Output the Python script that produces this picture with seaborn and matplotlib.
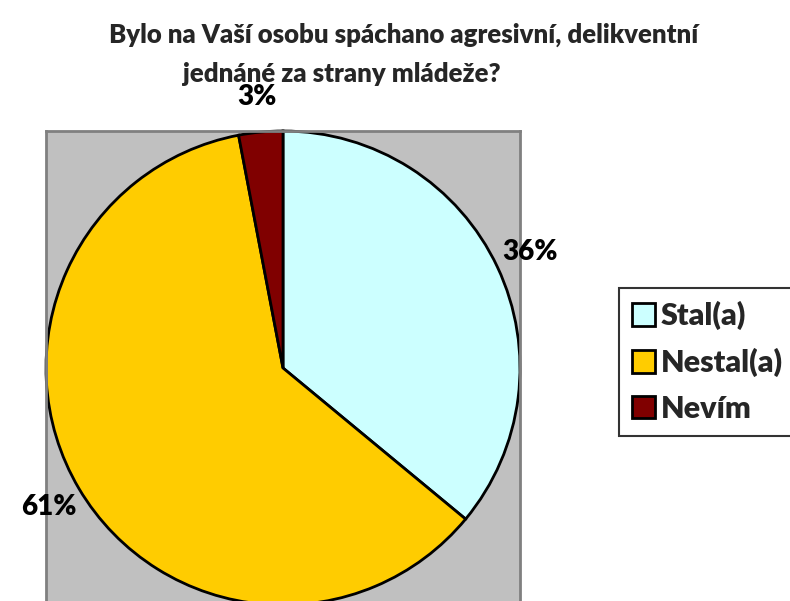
import matplotlib.pyplot as plt
import seaborn as sns
from matplotlib.patches import Patch

# Data
labels = ["Stal(a)", "Nestal(a)", "Nevím"]
shares = [36, 61, 3]
colors = ["#CCFFFF", "#FFCC00", "#800000"]
title_line1 = "Bylo na Vaší osobu spáchano agresivní, delikventní"
title_line2 = "jednáné za strany mládeže?"

sns.set_theme(style="white")
plt.rcParams["font.family"] = ["Lato", "DejaVu Sans"]
plt.rcParams["font.weight"] = "heavy"

fig = plt.figure(figsize=(7.9, 6.01), dpi=100)
W, H = 790, 601
# plot area (gray square) in pixels: left 46, top 131, size 474
ax = fig.add_axes([46 / W, (H - 131 - 474) / H, 474 / W, 474 / H])
ax.set_facecolor("#C0C0C0")
for s in ax.spines.values():
    s.set_visible(True)
    s.set_color("#808080")
    s.set_linewidth(2)

wedges, _, autotexts = ax.pie(
    shares, colors=colors, startangle=90, counterclock=False,
    autopct="%1.0f%%", pctdistance=1.15, radius=1.0,
    wedgeprops=dict(edgecolor="black", linewidth=2),
    textprops=dict(fontsize=20, fontweight="heavy", color="black"),
    frame=True,
)
ax.set_xlim(-1.0, 1.0)
ax.set_ylim(-1.0, 1.0)
ax.set_aspect("equal")
ax.set_xticks([])
ax.set_yticks([])

fig.text(404 / W, 1 - 35 / H, title_line1, ha="center", va="center",
         fontsize=18.5, fontweight="heavy")
fig.text(342 / W, 1 - 74 / H, title_line2, ha="center", va="center",
         fontsize=18.5, fontweight="heavy")

handles = [Patch(facecolor=c, edgecolor="black", linewidth=2) for c in colors]
leg = fig.legend(handles, labels, loc="center left",
                 bbox_to_anchor=(619 / W, 1 - 362 / H),
                 frameon=True, fancybox=False,
                 prop=dict(weight="heavy", size=22),
                 handlelength=0.75, handleheight=0.75, handletextpad=0.2,
                 labelspacing=0.58, borderpad=0.42, borderaxespad=0.0)
leg.get_frame().set_edgecolor("black")
leg.get_frame().set_linewidth(1.5)

fig.savefig("out.png", dpi=100)
